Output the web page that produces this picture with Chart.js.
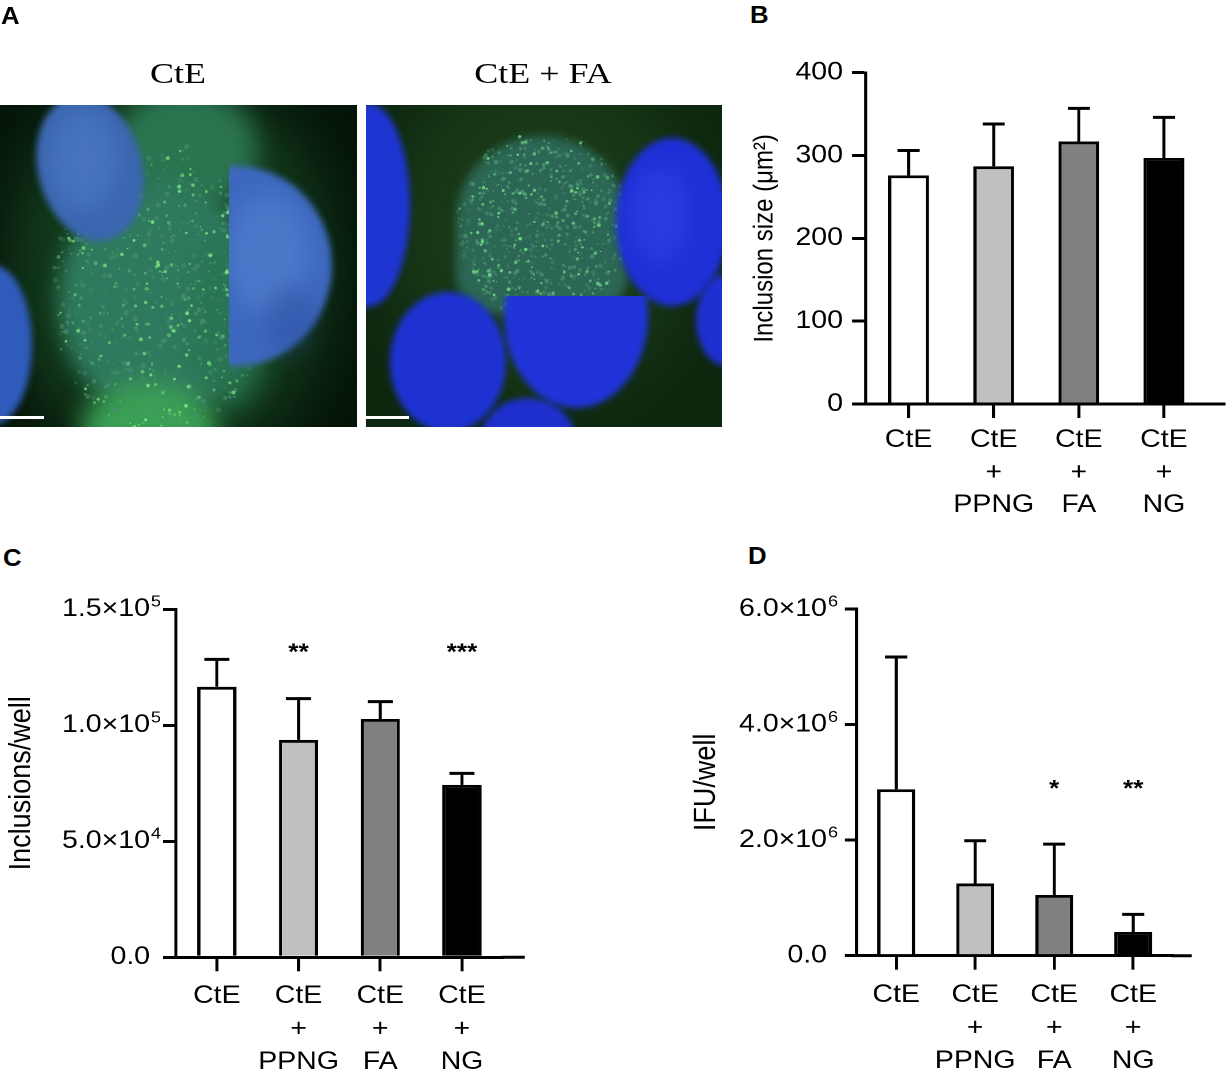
<!DOCTYPE html>
<html><head><meta charset="utf-8">
<script src="https://cdn.jsdelivr.net/npm/chart.js@4.4.1/dist/chart.umd.min.js"></script>
<style>
html,body{margin:0;padding:0;background:#fff;}
body{width:1230px;height:1075px;position:relative;overflow:hidden;font-family:'Liberation Sans',Arial,sans-serif;}
.panel{position:absolute;transform-origin:0 0;}
.plabel{position:absolute;font-weight:bold;font-size:23px;line-height:23px;transform:scaleX(1.12);transform-origin:0 0;color:#000;}
</style></head><body>
<canvas id="cA" width="730" height="440" style="position:absolute;left:0;top:0;width:730px;height:440px"></canvas>
<div class="plabel" style="left:1px;top:5px">A</div>
<div class="plabel" style="left:750px;top:4px">B</div>
<div class="plabel" style="left:3px;top:547px">C</div>
<div class="plabel" style="left:748px;top:545px">D</div>
<div class="panel" id="pB"><canvas id="cB"></canvas></div>
<div class="panel" id="pC"><canvas id="cC"></canvas></div>
<div class="panel" id="pD"><canvas id="cD"></canvas></div>
<script>
// ---------------- DATA ----------------
const categories = [["CtE"], ["CtE", "+", "PPNG"], ["CtE", "+", "FA"], ["CtE", "+", "NG"]];
const barColors = ["#ffffff", "#c0c0c0", "#808080", "#000000"];

const sizeMean  = [276, 287, 317, 297];
const sizeUpper = [306, 338, 357, 346];
const sizeTickValues = [0, 100, 200, 300, 400];
const sizeTickLabels = ["0", "100", "200", "300", "400"];
const sizeTickExps   = ["", "", "", "", ""];

const inclMean  = [116600, 93700, 102700, 74300];
const inclUpper = [128400, 111500, 110200, 79300];
const inclSig   = ["", "**", "", "***"];
const inclSigLevel = 134000;
const inclTickValues = [0, 50000, 100000, 150000];
const inclTickLabels = ["0.0", "5.0×10", "1.0×10", "1.5×10"];
const inclTickExps   = ["", "4", "5", "5"];

const ifuMean  = [2880000, 1250000, 1050000, 410000];
const ifuUpper = [5170000, 1990000, 1930000, 716000];
const ifuSig   = ["", "", "*", "**"];
const ifuSigLevel = 2990000;
const ifuTickValues = [0, 2000000, 4000000, 6000000];
const ifuTickLabels = ["0.0", "2.0×10", "4.0×10", "6.0×10"];
const ifuTickExps   = ["", "6", "6", "6"];

// ---------------- PANEL A (micrograph illustration) ----------------
(function drawA(){
  const c = document.getElementById('cA');
  const ctx = c.getContext('2d');
  function hash(n){ const x = Math.sin(n*127.1 + 311.7)*43758.5453; return x - Math.floor(x); }
  function ell(cx, cy, rx, ry, col, blur, rot){
    ctx.save(); ctx.filter = blur ? 'blur(' + blur + 'px)' : 'none';
    ctx.fillStyle = col; ctx.beginPath(); ctx.ellipse(cx, cy, rx, ry, rot || 0, 0, Math.PI*2); ctx.fill(); ctx.restore();
  }
  function speckles(x0, y0, x1, y1, inside, n, seed, col, rmax, amax){
    ctx.save(); ctx.fillStyle = col;
    for (let i = 0; i < n; i++){
      const x = x0 + hash(seed + i*2.13)*(x1 - x0);
      const y = y0 + hash(seed + i*5.71 + 9)*(y1 - y0);
      if (!inside(x, y)) continue;
      const r = 0.6 + hash(seed + i*3.3 + 4)*rmax;
      ctx.globalAlpha = 0.2 + hash(seed + i*1.7)*amax;
      ctx.beginPath(); ctx.arc(x, y, r, 0, Math.PI*2); ctx.fill();
    }
    ctx.restore();
  }
  // left image
  ctx.save();
  ctx.beginPath(); ctx.rect(0, 105, 357, 322); ctx.clip();
  ctx.fillStyle = '#051509'; ctx.fillRect(0, 105, 357, 322);
  ell(170, 270, 160, 200, 'rgba(22,70,34,0.8)', 30);
  ell(185, 150, 72, 62, '#2b7450', 12);
  ell(160, 300, 102, 118, '#2f7a5e', 10);
  ell(150, 428, 68, 45, '#3b9f55', 12);
  ell(230, 320, 40, 90, 'rgba(40,115,80,0.8)', 12);
  speckles(50, 110, 260, 427, (x,y)=>((x-160)*(x-160)/(108*108)+(y-290)*(y-290)/(150*150))<1, 700, 1, '#4a8f70', 2.2, 0.5);
  speckles(50, 110, 260, 427, (x,y)=>((x-160)*(x-160)/(105*105)+(y-290)*(y-290)/(145*145))<1, 420, 3, '#7ae884', 1.5, 0.7);
  ell(90, 168, 52, 74, '#3b66b0', 3, -0.25);
  ell(84, 160, 34, 50, 'rgba(85,130,205,0.45)', 10);
  ell(-8, 345, 40, 80, '#2f5cbc', 3);
  ctx.save(); ctx.beginPath(); ctx.rect(229, 100, 140, 330); ctx.clip();
  ell(236, 266, 96, 100, '#3d68be', 3);
  ell(268, 255, 40, 60, 'rgba(100,145,220,0.4)', 12);
  ell(290, 320, 25, 35, 'rgba(40,70,150,0.35)', 10);
  ctx.restore();
  ctx.fillStyle = '#ffffff'; ctx.fillRect(0, 416, 44, 3);
  ctx.restore();

  // right image
  ctx.save();
  ctx.beginPath(); ctx.rect(366, 105, 356, 322); ctx.clip();
  ctx.fillStyle = '#0e2810'; ctx.fillRect(366, 105, 356, 322);
  ell(540, 230, 150, 170, 'rgba(28,64,26,0.7)', 30);
  ctx.save(); ctx.filter = 'blur(5px)'; ctx.fillStyle = '#2c6654';
  ctx.beginPath(); ctx.roundRect(456, 136, 172, 178, [85, 85, 40, 40]); ctx.fill(); ctx.restore();
  speckles(456, 136, 628, 310, (x,y)=>((x-542)*(x-542)/(86*86)+(y-225)*(y-225)/(95*95))<1, 600, 77, '#4f9a78', 1.8, 0.5);
  speckles(456, 136, 628, 310, (x,y)=>((x-542)*(x-542)/(84*84)+(y-225)*(y-225)/(92*92))<1, 340, 91, '#74e08c', 1.4, 0.7);
  ell(368, 205, 42, 102, '#1f35d2', 3);
  ell(672, 222, 56, 84, '#1e30d6', 3);
  ell(660, 215, 30, 50, 'rgba(50,70,235,0.5)', 10);
  ctx.save(); ctx.beginPath(); ctx.roundRect(480, 296, 200, 150, [14, 14, 0, 0]); ctx.clip();
  ell(576, 316, 72, 92, '#2034da', 3);
  ctx.restore();
  ell(448, 362, 58, 70, '#1e32d4', 3);
  ell(726, 320, 30, 46, '#1e30d0', 3);
  ell(528, 442, 48, 44, '#1e30ce', 3);
  ctx.fillStyle = '#ffffff'; ctx.fillRect(366, 416, 43, 3);
  ctx.restore();

  // titles
  ctx.fillStyle = '#000';
  ctx.font = "30px 'Liberation Serif', 'Times New Roman', serif";
  ctx.textAlign = 'center'; ctx.textBaseline = 'alphabetic';
  [[178, "CtE"], [543, "CtE + FA"]].forEach(([x, t]) => {
    ctx.save(); ctx.translate(x, 83); ctx.scale(1.2, 1); ctx.fillText(t, 0, 0); ctx.restore();
  });
})();

// ---------------- CHARTS ----------------
const S = 1.14; // horizontal stretch of the original figure
Chart.defaults.font.family = "'Liberation Sans', Arial, Helvetica, sans-serif";
Chart.defaults.color = '#000';

const errorBars = {
  id: 'errorBars',
  afterDatasetsDraw(chart, args, o) {
    const meta = chart.getDatasetMeta(0), y = chart.scales.y, ctx = chart.ctx;
    ctx.save(); ctx.strokeStyle = '#000'; ctx.lineCap = 'butt';
    meta.data.forEach((bar, i) => {
      const top = y.getPixelForValue(o.upper[i]);
      const base = y.getPixelForValue(chart.data.datasets[0].data[i]);
      ctx.lineWidth = o.vWidth;
      ctx.beginPath(); ctx.moveTo(bar.x, base); ctx.lineTo(bar.x, top); ctx.stroke();
      ctx.lineWidth = 3;
      ctx.beginPath(); ctx.moveTo(bar.x - o.cap/2, top); ctx.lineTo(bar.x + o.cap/2, top); ctx.stroke();
    });
    ctx.restore();
  }
};
const sigMarks = {
  id: 'sigMarks',
  afterDatasetsDraw(chart, args, o) {
    if (!o.marks) return;
    const meta = chart.getDatasetMeta(0), y = chart.scales.y, ctx = chart.ctx;
    ctx.save(); ctx.fillStyle = '#000'; ctx.font = "bold 23px 'Liberation Sans', Arial, sans-serif";
    ctx.textAlign = 'center'; ctx.textBaseline = 'alphabetic';
    meta.data.forEach((bar, i) => {
      if (o.marks[i]) ctx.fillText(o.marks[i], bar.x, y.getPixelForValue(o.level) + 13);
    });
    ctx.restore();
  }
};
const axisExtend = {
  id: 'axisExtend',
  afterDraw(chart, args, o) {
    const a = chart.chartArea, ctx = chart.ctx;
    ctx.save(); ctx.strokeStyle = '#000'; ctx.lineWidth = 3;
    ctx.beginPath(); ctx.moveTo(a.right - 1, a.bottom); ctx.lineTo(a.right + o.ext, a.bottom); ctx.stroke();
    ctx.restore();
  }
};
const tickExponents = {
  id: 'tickExponents',
  afterDraw(chart, args, o) {
    if (!o.exps) return;
    const y = chart.scales.y, ctx = chart.ctx;
    const x0 = chart.chartArea.left - o.tickLen - o.pad + o.gap;
    ctx.save(); ctx.fillStyle = '#000';
    ctx.font = o.size + "px 'Liberation Sans', Arial, sans-serif";
    ctx.textAlign = 'left'; ctx.textBaseline = 'middle';
    y.ticks.forEach((t, i) => { if (o.exps[i]) ctx.fillText(o.exps[i], x0, y.getPixelForValue(t.value) + o.dy); });
    ctx.restore();
  }
};

function makeChart(canvasId, panelId, L, mean, upper, tickVals, tickLabels, tickExps, maxV, marks, level) {
  const panel = document.getElementById(panelId);
  const W = Math.round(L.width / S);
  panel.style.left = L.left + 'px'; panel.style.top = L.top + 'px';
  panel.style.width = W + 'px'; panel.style.height = L.height + 'px';
  panel.style.transform = 'scaleX(' + S + ')';
  const canvas = document.getElementById(canvasId);
  canvas.width = W; canvas.height = L.height;
  const xH = 130;
  const yW = (L.axisX - L.left) / S;
  const yTickLen = L.yTick / S;
  const padRight = W - (L.rightX - L.left) / S;
  const padTop = L.plotTop - L.top;
  const padBottom = Math.max(0, L.height - (L.plotBottom - L.top) - xH);
  const yTickPad = (L.axisX - L.labelRight) / S - yTickLen;
  const xTickPad = L.firstY - L.plotBottom - 14 - L.lineH / 2;
  const titlePad = (L.titleX - L.left) / S - L.titleSize * 1.2 / 2;
  return new Chart(canvas, {
    type: 'bar',
    data: {
      labels: categories,
      datasets: [{
        data: mean,
        backgroundColor: barColors,
        borderColor: '#000',
        borderWidth: 2.9,
        borderSkipped: 'start',
        categoryPercentage: 1.0,
        barPercentage: 0.48
      }]
    },
    options: {
      responsive: false,
      animation: false,
      devicePixelRatio: 2,
      layout: { padding: { left: 0, right: padRight, top: padTop, bottom: padBottom } },
      plugins: {
        legend: { display: false },
        tooltip: { enabled: false },
        errorBars: { upper: upper, cap: L.cap / S, vWidth: 3 / S },
        sigMarks: { marks: marks, level: level },
        axisExtend: { ext: L.ext / S },
        tickExponents: { exps: tickExps, tickLen: yTickLen, pad: yTickPad, gap: 0.8, size: 16, dy: -7 }
      },
      scales: {
        x: {
          type: 'category',
          offset: true,
          afterFit: s => { s.height = xH; },
          grid: { display: true, offset: false, drawOnChartArea: false, drawTicks: true, tickLength: 14, color: '#000', lineWidth: 3 / S },
          border: { display: true, color: '#000', width: 3 },
          ticks: { color: '#000', font: { size: 25, lineHeight: L.lineH / 25 }, padding: xTickPad, maxRotation: 0, autoSkip: false }
        },
        y: {
          min: 0, max: maxV,
          afterFit: s => { s.width = yW; },
          afterBuildTicks: s => { s.ticks = tickVals.map(v => ({ value: v })); },
          grid: { display: true, drawOnChartArea: false, drawTicks: true, tickLength: yTickLen, color: '#000', lineWidth: 3 },
          border: { display: true, color: '#000', width: 3 / S },
          ticks: { color: '#000', font: { size: L.tickSize }, padding: yTickPad, callback: (v, i) => tickLabels[i] },
          title: { display: true, text: L.title, color: '#000', font: { size: L.titleSize, lineHeight: 1.2 }, padding: { top: titlePad, bottom: 0 } }
        }
      }
    },
    plugins: [errorBars, sigMarks, axisExtend, tickExponents]
  });
}

makeChart('cB', 'pB',
  { left: 740, top: 0, width: 490, height: 540, axisX: 866, rightX: 1206.5, ext: 19, plotTop: 72.7, plotBottom: 404,
    titleX: 765, titleSize: 24, title: 'Inclusion size (μm²)', labelRight: 843, yTick: 14, tickSize: 25, firstY: 440, lineH: 32.5, cap: 22 },
  sizeMean, sizeUpper, sizeTickValues, sizeTickLabels, sizeTickExps, 400, null, 0);

makeChart('cC', 'pC',
  { left: 0, top: 560, width: 530, height: 540, axisX: 176, rightX: 502.8, ext: 22, plotTop: 609.3, plotBottom: 957.3,
    titleX: 21.7, titleSize: 27, title: 'Inclusions/well', labelRight: 150, yTick: 13, tickSize: 25, firstY: 996, lineH: 33, cap: 25 },
  inclMean, inclUpper, inclTickValues, inclTickLabels, inclTickExps, 150000, inclSig, inclSigLevel);

makeChart('cD', 'pD',
  { left: 680, top: 560, width: 550, height: 540, axisX: 856.7, rightX: 1172.7, ext: 19, plotTop: 609, plotBottom: 955.7,
    titleX: 706, titleSize: 27, title: 'IFU/well', labelRight: 827, yTick: 12, tickSize: 25, firstY: 995, lineH: 33, cap: 22 },
  ifuMean, ifuUpper, ifuTickValues, ifuTickLabels, ifuTickExps, 6000000, ifuSig, ifuSigLevel);
</script>
</body></html>
